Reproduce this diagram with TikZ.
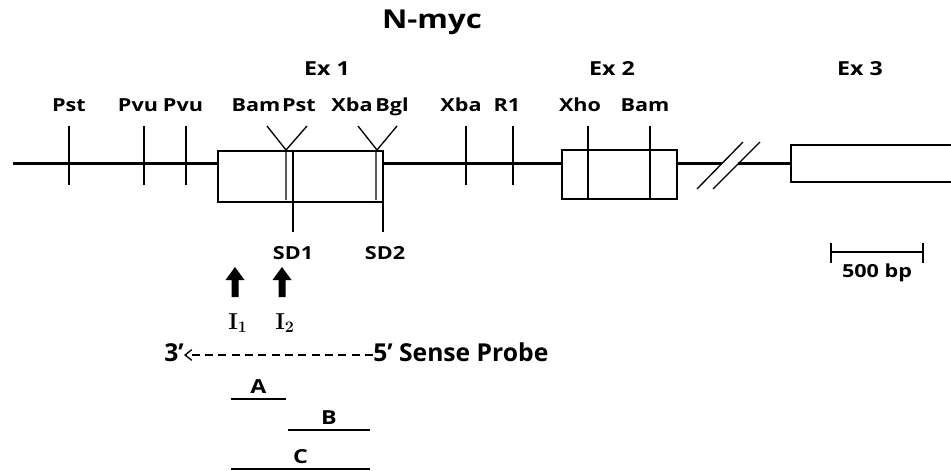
\documentclass[tikz,border=0pt]{standalone}
\usepackage[no-math]{fontspec}
\setmainfont{Open Sans}
\newfontfamily\mapfont[FakeStretch=1.2]{Open Sans}
\newfontfamily\probefont{Open Sans}
\usetikzlibrary{arrows.meta,positioning}
\tikzset{>=Stealth,every node/.style={inner sep=0pt},
 sitelabel/.style={font=\mapfont\bfseries\fontsize{13.5}{15}\selectfont,anchor=base},
 exonlabel/.style={font=\mapfont\bfseries\fontsize{14.5}{16}\selectfont,anchor=base},
 probelabel/.style={font=\probefont\bfseries\fontsize{18.5}{20}\selectfont,anchor=base},
 fraglabel/.style={font=\mapfont\bfseries\fontsize{14.5}{16}\selectfont,anchor=base},
 mapline/.style={line width=1.6pt},
 thin/.style={line width=1pt}}
\begin{document}
\begin{tikzpicture}[x=0.75pt,y=-0.75pt]
\useasboundingbox (0,0) rectangle (951,471);
\node[font=\mapfont\bfseries\fontsize{19.5}{22}\selectfont,anchor=base] (title) at (432,28) {N-myc};
\foreach \x/\n/\t in {327/ex1/Ex 1,612/ex2/Ex 2,860/ex3/Ex 3}
 \node[exonlabel] (\n) at (\x,75) {\t};
% restriction sites
\foreach \x/\n/\t in {69/s1/Pst,138/s2/Pvu,183/s3/Pvu,256/s4/Bam,299/s5/Pst,
 352/s6/Xba,392/s7/Bgl,461/s8/Xba,507/s9/R1,580/s10/Xho,645/s11/Bam}
 \node[sitelabel] (\n) at (\x,111) {\t};
% genomic line
\draw[mapline] (13,163.5)--(218,163.5) (383,163.5)--(562,163.5)
 (677,163.5)--(722,163.5) (738,163.5)--(791,163.5);
\draw[thin] (697,189)--(743,142) (713,189)--(760,142);
% exons
\draw[thin] (218,151) rectangle (383,202);
\draw[thin] (562,150) rectangle (677,199);
\draw[thin] (951,145)--(791,145)--(791,182)--(951,182);
\foreach \x in {69,144,186,466,513}
 \draw[thin] (\x,126)--(\x,185);
\foreach \x in {588,650}
 \draw[thin] (\x,126)--(\x,199);
\draw[thin] (267,126)--(286,150)--(307,126) (286,151)--(286,200);
\draw[thin] (358,126)--(377,150)--(397,126) (376,151)--(376,200);
\draw[thin] (293,151)--(293,232) coordinate (sd1top);
\draw[thin] (383,151)--(383,232) coordinate (sd2top);
\node[sitelabel] (sd1) at (293,259) {SD1};
\node[sitelabel] (sd2) at (385,259) {SD2};
% initiation sites
\foreach \x/\k in {235/1,282/2}{
 \fill (\x-3.5,297)--(\x+3.5,297)--(\x+3.5,280)--(\x+9.5,280)--(\x,267)
  --(\x-9.5,280)--(\x-3.5,280)--cycle;
 \node[font=\fontsize{18}{20}\selectfont\boldmath,anchor=base] (i\k) at (\x+3,329) {$\mathrm{I}_{\k}$};
}
% probe
\node[probelabel,anchor=base east] (p3) at (184,361) {3’};
\node[probelabel,anchor=base west] (p5) at (373,361) {5’ Sense Probe};
\draw[thin,dash pattern=on 6pt off 4pt,-{Straight Barb[length=5pt,width=8pt]}]
 (p5.west|-0,355)--(p3.east|-0,355);
\foreach \a/\b/\y/\n/\t in {231/286/399/fa/A,288/370/430/fb/B,231/370/469/fc/C}{
 \draw[thin] (\a,\y)--(\b,\y);
 \node[fraglabel] (\n) at ({(\a+\b)/2},\y-6) {\t};
}
% scale bar
\draw[line width=1.6pt] (831,252)--(923,252);
\draw[line width=1.6pt] (831,243)--(831,263) (923,243)--(923,263);
\node[sitelabel] (bar) at (877,277) {500 bp};
\end{tikzpicture}
\end{document}
